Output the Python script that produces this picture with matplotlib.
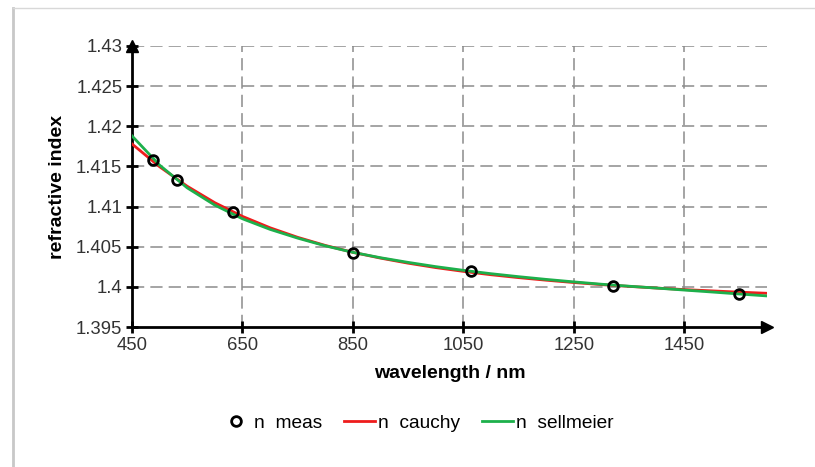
import matplotlib.pyplot as plt
from matplotlib.lines import Line2D

plt.rcParams['font.family'] = ['Liberation Sans', 'DejaVu Sans']

# measured points
meas_wl = [488, 532, 633, 850, 1064, 1321, 1550]
meas_n = [1.4158, 1.4133, 1.40935, 1.40426, 1.4020, 1.40015, 1.39915]

fit_wl = [450, 500, 550, 600, 650, 700, 750, 800, 850, 900, 950, 1000,
          1050, 1100, 1150, 1200, 1250, 1300, 1350, 1400, 1450, 1500, 1550, 1600]
n_cauchy = [1.41780, 1.41496, 1.41253, 1.41048, 1.40878, 1.40736, 1.40617, 1.40516,
            1.40430, 1.40358, 1.40295, 1.40240, 1.40193, 1.40151, 1.40115, 1.40083,
            1.40054, 1.40028, 1.40006, 1.39985, 1.39966, 1.39950, 1.39934, 1.39920]
n_sellmeier = [1.41880, 1.41516, 1.41233, 1.41018, 1.40848, 1.40716, 1.40607, 1.40511,
               1.40430, 1.40363, 1.40305, 1.40252, 1.40206, 1.40164, 1.40127, 1.40093,
               1.40062, 1.40033, 1.40008, 1.39985, 1.39960, 1.39936, 1.39911, 1.39887]

xticks = [450, 650, 850, 1050, 1250, 1450]
yticks = [1.395, 1.4, 1.405, 1.41, 1.415, 1.42, 1.425, 1.43]

fig = plt.figure(figsize=(8.15, 4.67), dpi=100)
ax = fig.add_axes([132 / 815, 1 - 327 / 467, (767 - 132) / 815, (327 - 46) / 467])

ax.plot(fit_wl, n_cauchy, color='#ee1c1c', lw=2, label='n  cauchy', zorder=3)
ax.plot(fit_wl, n_sellmeier, color='#1db04b', lw=2, label='n  sellmeier', zorder=3)
ax.plot(meas_wl, meas_n, 'o', ms=7, mfc='none', mec='black', mew=2, label='n  meas', zorder=4)

ax.set_xlim(450, 1600)
ax.set_ylim(1.395, 1.43)
ax.set_xticks(xticks)
ax.set_yticks(yticks)
ax.set_yticklabels(['%g' % v for v in yticks])
ax.tick_params(direction='inout', length=8, width=2, labelsize=13.3, colors='black',
               labelcolor='#333333')
ax.tick_params(axis='x', pad=3)
ax.tick_params(axis='y', pad=3)

for v in yticks[1:]:
    ax.axhline(v, color='#8c8c8c', lw=1.1, ls=(0, (8, 4)), zorder=1)
for v in xticks[1:]:
    ax.axvline(v, color='#8c8c8c', lw=1.1, ls=(0, (8, 4)), zorder=1)

for s in ['top', 'right']:
    ax.spines[s].set_visible(False)
for s in ['left', 'bottom']:
    ax.spines[s].set_linewidth(2)
    ax.spines[s].set_color('black')

# arrow heads at axis ends
ax.plot(1, 0, '>', color='black', ms=8, transform=ax.transAxes, clip_on=False)
ax.plot(0, 1, '^', color='black', ms=8, transform=ax.transAxes, clip_on=False)

ax.set_xlabel('wavelength / nm', fontsize=14, fontweight='bold', labelpad=8)
ax.set_ylabel('refractive index', fontsize=14, fontweight='bold', labelpad=7)

h, l = ax.get_legend_handles_labels()
order = [2, 0, 1]
fig.legend([h[i] for i in order], [l[i] for i in order], loc='center',
           bbox_to_anchor=(417 / 815, 1 - 423 / 467), ncol=3, frameon=False,
           fontsize=13.8, handlelength=1.6, handletextpad=0.15, columnspacing=1.15)

# page frame lines
fig.add_artist(Line2D([13 / 815, 13 / 815], [0, 1 - 8 / 467], color='#c8c8c8', lw=2))
fig.add_artist(Line2D([13 / 815, 1], [1 - 8 / 467, 1 - 8 / 467], color='#d8d8d8', lw=1))

fig.savefig('out.png', dpi=100)
